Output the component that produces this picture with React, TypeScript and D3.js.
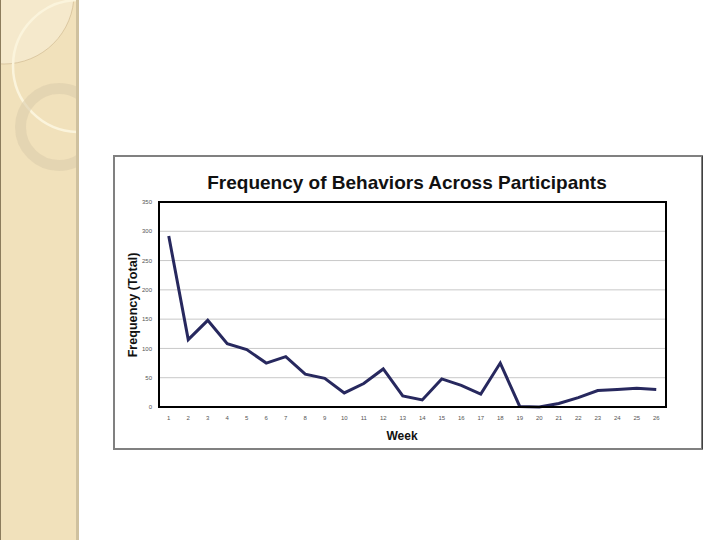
import * as d3 from "d3";

const WEEKS = [
  "1", "2", "3", "4", "5", "6", "7", "8", "9", "10", "11", "12", "13",
  "14", "15", "16", "17", "18", "19", "20", "21", "22", "23", "24", "25", "26",
];
const FREQUENCY = [
  292, 115, 148, 108, 98, 75, 86, 56, 49, 24, 40, 65, 19,
  12, 48, 37, 22, 75, 1, 0, 6, 16, 28, 30, 32, 30,
];
const Y_TICKS = [0, 50, 100, 150, 200, 250, 300, 350];

const PLOT = { left: 159, right: 666, top: 202, bottom: 407 };
const FONT = "'Liberation Sans', Arial, sans-serif";

export default function App() {
  const x = d3
    .scaleBand()
    .domain(WEEKS)
    .range([PLOT.left, PLOT.right]);
  const y = d3.scaleLinear().domain([0, 350]).range([PLOT.bottom, PLOT.top]);

  const line = d3
    .line<number>()
    .x((_, i) => (x(WEEKS[i]) ?? 0) + x.bandwidth() / 2)
    .y((d) => y(d));

  return (
    <svg
      width={720}
      height={540}
      style={{ position: "absolute", left: 0, top: 0, background: "#fff" }}
    >
      <defs>
        <clipPath id="stripe">
          <rect x={0} y={0} width={77} height={540} />
        </clipPath>
      </defs>

      {/* decorative slide stripe */}
      <rect x={0} y={0} width={79} height={540} fill="#f1e1bb" />
      <g clipPath="url(#stripe)">
        <circle cx={4} cy={-6} r={70} fill="#f5e9cc" stroke="#cbb48a" strokeWidth={0.6} />
        <circle cx={79} cy={66} r={66} fill="none" stroke="#fbf4dc" strokeWidth={2.5} />
        <circle
          cx={59}
          cy={127}
          r={38.5}
          fill="none"
          stroke="#dccdab"
          strokeOpacity={0.6}
          strokeWidth={11}
        />
      </g>
      <rect x={76} y={0} width={3} height={540} fill="#cfc19f" />
      <rect x={0} y={0} width={1} height={540} fill="#8c7c5c" />

      {/* chart frame */}
      <rect x={114} y={156} width={588} height={293} fill="#fff" stroke="#808080" strokeWidth={2} />
      <line x1={702.5} y1={156} x2={702.5} y2={449} stroke="#404040" strokeWidth={1} />

      <text
        x={407}
        y={189}
        textAnchor="middle"
        fontFamily={FONT}
        fontWeight="bold"
        fontSize={19}
        fill="#111"
      >
        Frequency of Behaviors Across Participants
      </text>

      {/* grid */}
      {Y_TICKS.filter((t) => t > 0 && t < 350).map((t) => (
        <line
          key={t}
          x1={PLOT.left}
          x2={PLOT.right}
          y1={y(t)}
          y2={y(t)}
          stroke="#c8c8c8"
          strokeWidth={1}
        />
      ))}

      {/* y tick labels */}
      {Y_TICKS.map((t) => (
        <text
          key={t}
          x={152}
          y={y(t)}
          dy="0.35em"
          textAnchor="end"
          fontFamily={FONT}
          fontSize={6}
          fill="#555"
        >
          {t}
        </text>
      ))}

      {/* x tick labels */}
      {WEEKS.map((w) => (
        <text
          key={w}
          x={(x(w) ?? 0) + x.bandwidth() / 2}
          y={420}
          textAnchor="middle"
          fontFamily={FONT}
          fontSize={6}
          fill="#555"
        >
          {w}
        </text>
      ))}

      <path d={line(FREQUENCY) ?? ""} fill="none" stroke="#27285e" strokeWidth={3} strokeLinejoin="miter" />

      <rect
        x={PLOT.left}
        y={PLOT.top}
        width={PLOT.right - PLOT.left}
        height={PLOT.bottom - PLOT.top}
        fill="none"
        stroke="#000"
        strokeWidth={2}
      />

      <text
        x={402}
        y={440}
        textAnchor="middle"
        fontFamily={FONT}
        fontWeight="bold"
        fontSize={12}
        fill="#111"
      >
        Week
      </text>
      <text
        transform={`translate(137,305) rotate(-90)`}
        textAnchor="middle"
        fontFamily={FONT}
        fontWeight="bold"
        fontSize={12.6}
        fill="#111"
      >
        Frequency (Total)
      </text>
    </svg>
  );
}
